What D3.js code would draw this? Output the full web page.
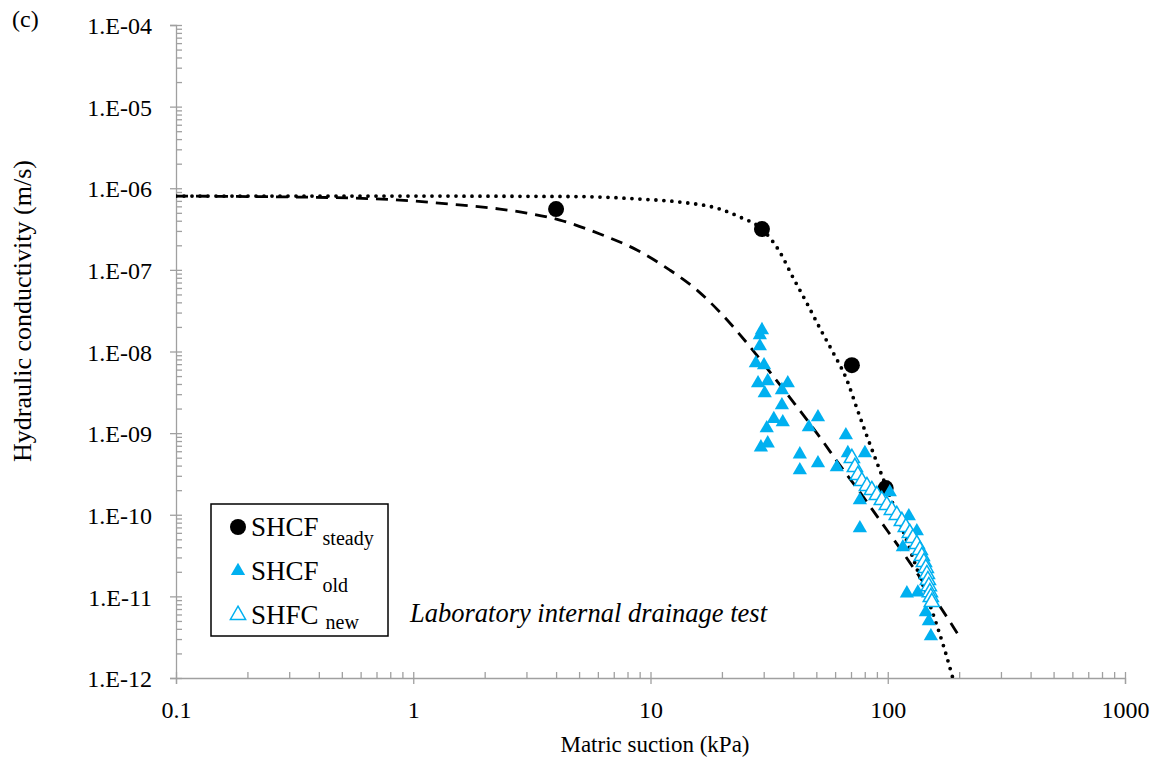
<!DOCTYPE html>
<html><head><meta charset="utf-8">
<script src="https://cdn.jsdelivr.net/npm/d3@7"></script>
<style>
body{margin:0;background:#fff}
svg{display:block}
text{font-family:"Liberation Serif","Times New Roman",serif;fill:#000}
</style>
</head><body>
<svg id="chart" width="1160" height="764"></svg>
<script>
// ---- data ----
const xTickValues = [0.1, 1, 10, 100, 1000];
const xTickLabels = ["0.1", "1", "10", "100", "1000"];
const yTickValues = [1e-12, 1e-11, 1e-10, 1e-9, 1e-8, 1e-7, 1e-6, 1e-5, 1e-4];
const yTickLabels = ["1.E-12", "1.E-11", "1.E-10", "1.E-09", "1.E-08", "1.E-07", "1.E-06", "1.E-05", "1.E-04"];

const steadySuction = [4, 29.5, 70.6, 98];
const steadyK = [5.56e-7, 3.16e-7, 6.8e-9, 2.12e-10];

const oldSuction = [29.5, 28.9, 28.9, 27.8, 30.1, 28.4, 31.2, 37.9, 30.3, 35.8, 35.8, 33.1, 36.1, 30.9, 31.2, 29.2, 42.6, 42.6, 46.5, 50.8, 50.8, 61.0, 66.6, 67.9, 80.1, 76.3, 76.3, 102, 122.7, 132.6, 115.8, 120.4, 133.9, 144.7, 149, 152];
const oldK = [1.83e-8, 1.59e-8, 1.16e-8, 7.2e-9, 6.8e-9, 4.1e-9, 4.34e-9, 4.1e-9, 3.09e-9, 3.37e-9, 2.2e-9, 1.49e-9, 1.36e-9, 1.15e-9, 7.5e-10, 6.7e-10, 5.5e-10, 3.52e-10, 1.18e-9, 1.57e-9, 4.29e-10, 3.83e-10, 9.45e-10, 5.7e-10, 5.7e-10, 1.51e-10, 6.85e-11, 1.89e-10, 9.6e-11, 6.3e-11, 4.0e-11, 1.09e-11, 1.12e-11, 6.4e-12, 4.97e-12, 3.25e-12];

const newSuction = [70.6, 72.7, 74.8, 77.8, 81.7, 85.7, 90.0, 94.4, 99.1, 104.1, 109.2, 114.7, 119.2, 123.9, 127.6, 132.6, 136.5, 139.2, 142.0, 144.7, 146.2, 147.6, 149.0, 150.5, 151.9, 153.4];
const newK = [4.94e-10, 3.83e-10, 3.05e-10, 2.58e-10, 2.24e-10, 2.0e-10, 1.74e-10, 1.51e-10, 1.31e-10, 1.14e-10, 9.9e-11, 8.35e-11, 7.05e-11, 5.96e-11, 5.17e-11, 4.36e-11, 3.68e-11, 3.11e-11, 2.62e-11, 2.22e-11, 1.87e-11, 1.58e-11, 1.33e-11, 1.12e-11, 9.77e-12, 8.5e-12];

// fitted curves
const fitSteadySuction = [0.1, 0.879, 4.94, 9.02, 13.3, 19.6, 23.8, 29.5, 35.1, 39.8, 45.6, 51.7, 58.7, 67.3, 74.1, 81.7, 92.6, 104.1, 115.8, 130.1, 146.2, 161.0, 174.0, 188.1];
const fitSteadyK = [8.02e-7, 8.02e-7, 7.91e-7, 7.37e-7, 6.77e-7, 5.56e-7, 4.44e-7, 3.16e-7, 1.65e-7, 8.16e-8, 3.92e-8, 1.94e-8, 9.83e-9, 4.46e-9, 2.02e-9, 9.19e-10, 3.52e-10, 1.47e-10, 6.48e-11, 2.55e-11, 1.006e-11, 4.44e-12, 2.19e-12, 9.94e-13];

const fitOldSuction = [0.1, 0.205, 0.333, 0.541, 0.879, 1.43, 2.32, 3.01, 4.15, 6.12, 8.76, 12.07, 15.7, 19.6, 25.5, 31.9, 40.6, 51.7, 62.8, 76.3, 92.6, 112.5, 136.5, 165.8, 201];
const fitOldK = [8.02e-7, 7.91e-7, 7.80e-7, 7.59e-7, 7.17e-7, 6.40e-7, 5.56e-7, 4.97e-7, 4.08e-7, 2.75e-7, 1.75e-7, 9.94e-8, 5.65e-8, 3.04e-8, 1.27e-8, 5.59e-9, 2.27e-9, 8.94e-10, 4.05e-10, 1.89e-10, 8.58e-11, 3.90e-11, 1.72e-11, 7.58e-12, 3.16e-12];

const legendLabels = ["SHCF", "SHCF", "SHFC"];
const legendSubs = ["steady", "old", "new"];

// ---- drawing ----
const FONT = '"Liberation Serif","Times New Roman",serif';
const svg = d3.select("#chart");
const L = 176, R = 1125, T = 25, B = 678;
const x = d3.scaleLog().domain([0.1, 1000]).range([L, R]);
const y = d3.scaleLog().domain([1e-12, 1e-4]).range([B, T]);
const axisColor = "#a0a0a0";
const blue = "#00B0F0";

function minors(lo, hi) {
  const out = [];
  for (let e = Math.round(Math.log10(lo)); e < Math.round(Math.log10(hi)); e++) {
    for (let m = 2; m <= 9; m++) out.push(m * Math.pow(10, e));
  }
  return out;
}

// x axis
const gx = svg.append("g").attr("transform", `translate(0,${B})`)
  .call(d3.axisBottom(x).tickValues(xTickValues).tickFormat((d, i) => xTickLabels[i]).tickSizeOuter(0).tickSize(6));
gx.selectAll(".tick line").attr("y1", -6).attr("y2", 6);
gx.selectAll(".tick text").attr("y", 40).attr("dy", 0).style("font-size", "24px").style("font-family", FONT);
const gxm = svg.append("g").attr("transform", `translate(0,${B})`)
  .call(d3.axisBottom(x).tickValues(minors(0.1, 1000)).tickFormat("").tickSize(-6).tickSizeOuter(0));
gxm.select(".domain").remove();

// y axis
const gy = svg.append("g").attr("transform", `translate(${L},0)`)
  .call(d3.axisLeft(y).tickValues(yTickValues).tickFormat((d, i) => yTickLabels[i]).tickSizeOuter(0).tickSize(6));
gy.selectAll(".tick line").attr("x1", -6).attr("x2", 6);
gy.selectAll(".tick text").attr("x", -24).attr("dy", "0.36em").style("font-size", "24px").style("font-family", FONT);
const gym = svg.append("g").attr("transform", `translate(${L},0)`)
  .call(d3.axisRight(y).tickValues(minors(1e-12, 1e-4)).tickFormat("").tickSize(6).tickSizeOuter(0));
gym.select(".domain").remove();

svg.selectAll(".domain, .tick line").attr("stroke", axisColor).attr("stroke-width", 1.3);

// titles
svg.append("text").attr("x", 655).attr("y", 752).attr("text-anchor", "middle")
  .style("font-family", FONT).style("font-size", "23px").text("Matric suction (kPa)");
svg.append("text").attr("transform", "translate(22,311) rotate(-90)").attr("text-anchor", "middle")
  .attr("dy", "0.35em").style("font-family", FONT).style("font-size", "26px").text("Hydraulic conductivity (m/s)");
svg.append("text").attr("x", 12).attr("y", 27).style("font-family", FONT).style("font-size", "24px").text("(c)");

// clip
svg.append("defs").append("clipPath").attr("id", "plotclip")
  .append("rect").attr("x", L).attr("y", T).attr("width", R - L).attr("height", B - T);

const line = d3.line().x(d => x(d[0])).y(d => y(d[1])).curve(d3.curveMonotoneX);
const plot = svg.append("g");

plot.append("path").attr("clip-path", "url(#plotclip)")
  .datum(d3.zip(fitOldSuction, fitOldK)).attr("d", line)
  .attr("fill", "none").attr("stroke", "#000").attr("stroke-width", 2.8).attr("stroke-dasharray", "12,8");
plot.append("path").attr("clip-path", "url(#plotclip)")
  .datum(d3.zip(fitSteadySuction, fitSteadyK)).attr("d", line)
  .attr("fill", "none").attr("stroke", "#000").attr("stroke-width", 3.8)
  .attr("stroke-linecap", "round").attr("stroke-dasharray", "0,8");

const tri = d3.symbol().type(d3.symbolTriangle).size(88);
const triHollow = d3.symbol().type(d3.symbolTriangle).size(100);

plot.selectAll(".steady").data(d3.zip(steadySuction, steadyK)).join("circle")
  .attr("cx", d => x(d[0])).attr("cy", d => y(d[1])).attr("r", 8).attr("fill", "#000");

plot.selectAll(".old").data(d3.zip(oldSuction, oldK)).join("path")
  .attr("d", tri).attr("transform", d => `translate(${x(d[0])},${y(d[1])})`).attr("fill", blue);

plot.selectAll(".new").data(d3.zip(newSuction, newK)).join("path")
  .attr("d", triHollow).attr("transform", d => `translate(${x(d[0])},${y(d[1])})`)
  .attr("fill", "#fff").attr("stroke", blue).attr("stroke-width", 1.5);

// annotation
svg.append("text").attr("x", 410).attr("y", 622).style("font-family", FONT).style("font-size", "26.5px").style("font-style", "italic")
  .text("Laboratory internal drainage test");

// legend
const lg = svg.append("g");
lg.append("rect").attr("x", 211).attr("y", 504).attr("width", 177).attr("height", 132)
  .attr("fill", "#fff").attr("stroke", "#000").attr("stroke-width", 1.5);
const rows = [{y: 527, sub: 9}, {y: 571, sub: 12}, {y: 615, sub: 5}];
rows.forEach((r, i) => {
  if (i === 0) lg.append("circle").attr("cx", 238).attr("cy", r.y).attr("r", 8).attr("fill", "#000");
  else if (i === 1) lg.append("path").attr("d", tri).attr("transform", `translate(238,${r.y})`).attr("fill", blue);
  else lg.append("path").attr("d", triHollow).attr("transform", `translate(238,${r.y})`).attr("fill", "#fff").attr("stroke", blue).attr("stroke-width", 1.5);
  const t = lg.append("text").attr("x", 251).attr("y", r.y + 9).style("font-family", FONT).style("font-size", "27px").text(legendLabels[i]);
  const w = t.node().getComputedTextLength();
  lg.append("text").attr("x", 251 + w + (i === 2 ? 7 : 4)).attr("y", r.y + 9 + r.sub).style("font-family", FONT).style("font-size", "20px").text(legendSubs[i]);
});
</script>
</body></html>
